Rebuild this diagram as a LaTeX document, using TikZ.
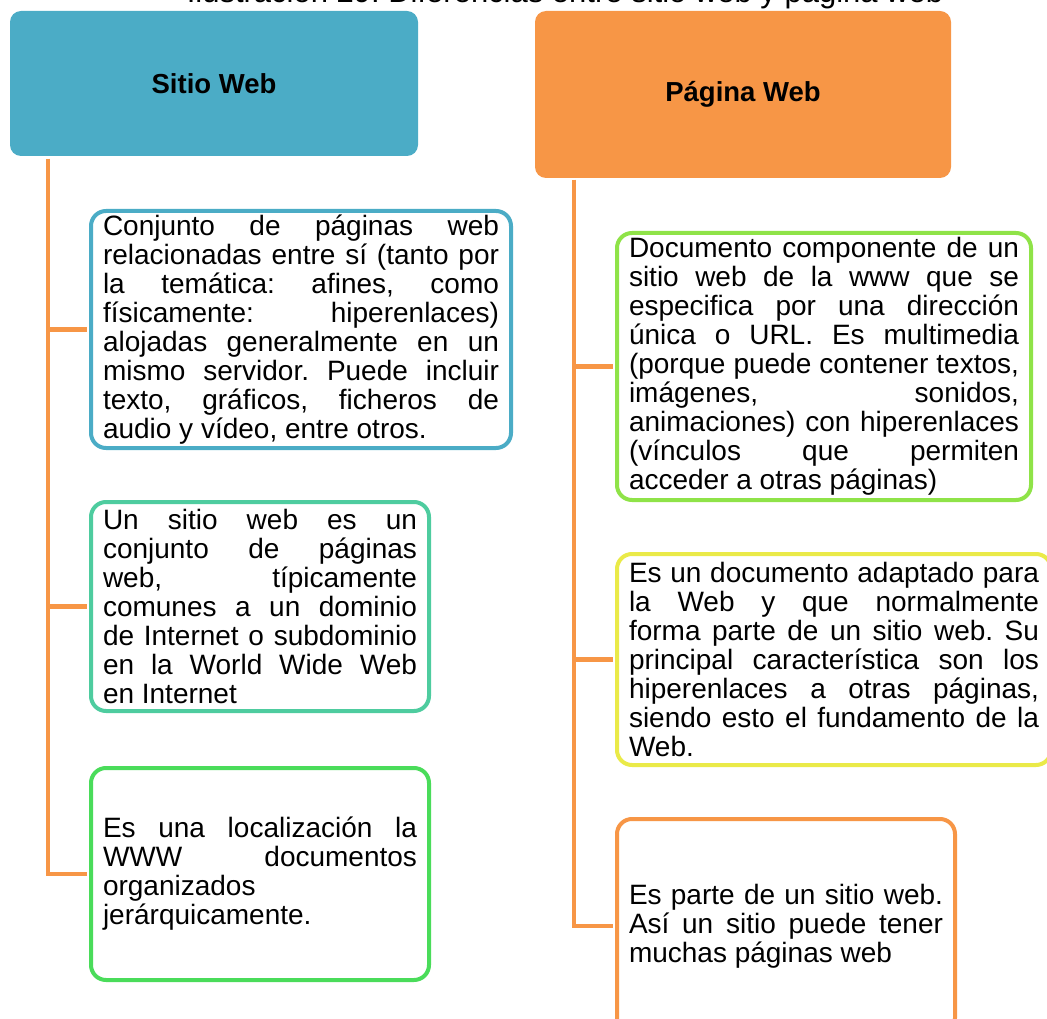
\documentclass[tikz,border=0pt]{standalone}
\usepackage{fontspec}
\setmainfont{Liberation Sans}
\definecolor{azulweb}{HTML}{4BACC6}
\definecolor{naranjaweb}{HTML}{F79646}
\definecolor{turquesa}{HTML}{4ECC9F}
\definecolor{verdeweb}{HTML}{4ADC5A}
\definecolor{verdelima}{HTML}{8FE348}
\definecolor{amarilloweb}{HTML}{EAEA48}
\tolerance=10000
\hbadness=10000
\frenchspacing
\begin{document}
\begin{tikzpicture}[x=1pt,y=-1pt]
			\tikzstyle{cabecera}=[rounded corners=11pt, inner sep=0pt, font=\fontsize{27.5}{32}\selectfont\bfseries]
			\tikzstyle{caja}=[draw, fill=white, line width=4pt, rounded corners=15pt, inner xsep=12pt, inner ysep=0pt, align=justify, font=\fontsize{28}{29}\selectfont]
			\tikzstyle{rama}=[draw=naranjaweb, line width=4.5pt, shorten >=2pt]
			\useasboundingbox (0,0) rectangle (1047,1019);
			\node (titulo) [anchor=base, font=\fontsize{31}{36}\selectfont] at (565,3) {Ilustración 29: Diferencias entre sitio web y página web};
			\node (sitio) [cabecera, fill=azulweb, minimum width=408pt, minimum height=145pt] at (214,83.5) {Sitio Web};
			\node (pagina) [cabecera, fill=naranjaweb, minimum width=416pt, minimum height=167pt] at (743,94.5) {Página Web};
			\node (sitioa) [caja, draw=azulweb, text width=396pt, minimum height=237pt] at (301,329.5) {Conjunto de páginas web\linebreak relacionadas entre sí (tanto por\linebreak la temática: afines, como\linebreak físicamente: hiperenlaces)\linebreak alojadas generalmente en un\linebreak mismo servidor. Puede incluir\linebreak texto, gráficos, ficheros de\linebreak audio y vídeo, entre otros.};
			\node (sitiob) [caja, draw=turquesa, text width=314pt, minimum height=209pt] at (260,606.5) {Un sitio web es un\linebreak conjunto de páginas\linebreak web, típicamente\linebreak comunes a un dominio\linebreak de Internet o subdominio\linebreak en la World Wide Web\linebreak en Internet};
			\node (sitioc) [caja, draw=verdeweb, text width=314pt, minimum height=212pt] at (260,874) {Es una localización la\linebreak WWW documentos\linebreak organizados\linebreak jerárquicamente.};
			\node (paginaa) [caja, draw=verdelima, text width=390pt, minimum height=267pt] at (824,366.5) {Documento componente de un\linebreak sitio web de la www que se\linebreak especifica por una dirección\linebreak única o URL. Es multimedia\linebreak (porque puede contener textos,\linebreak imágenes, sonidos,\linebreak animaciones) con hiperenlaces\linebreak (vínculos que permiten\linebreak acceder a otras páginas)};
			\node (paginab) [caja, draw=amarilloweb, text width=410pt, minimum height=211pt] at (834,659.5) {Es un documento adaptado para\linebreak la Web y que normalmente\linebreak forma parte de un sitio web. Su\linebreak principal característica son los\linebreak hiperenlaces a otras páginas,\linebreak siendo esto el fundamento de la\linebreak Web.};
			\node (paginac) [caja, draw=naranjaweb, text width=314pt, minimum height=214pt] at (786,926) {Es parte de un sitio web.\linebreak Así un sitio puede tener\linebreak muchas páginas web};
			\coordinate (izq) at (48,159);
			\coordinate (der) at (574,180);
			\draw [rama] (izq) |- (sitioa.west);
			\draw [rama] (izq) |- (sitiob.west);
			\draw [rama] (izq) |- (sitioc.west);
			\draw [rama] (der) |- (paginaa.west);
			\draw [rama] (der) |- (paginab.west);
			\draw [rama] (der) |- (paginac.west);
\end{tikzpicture}
\end{document}
